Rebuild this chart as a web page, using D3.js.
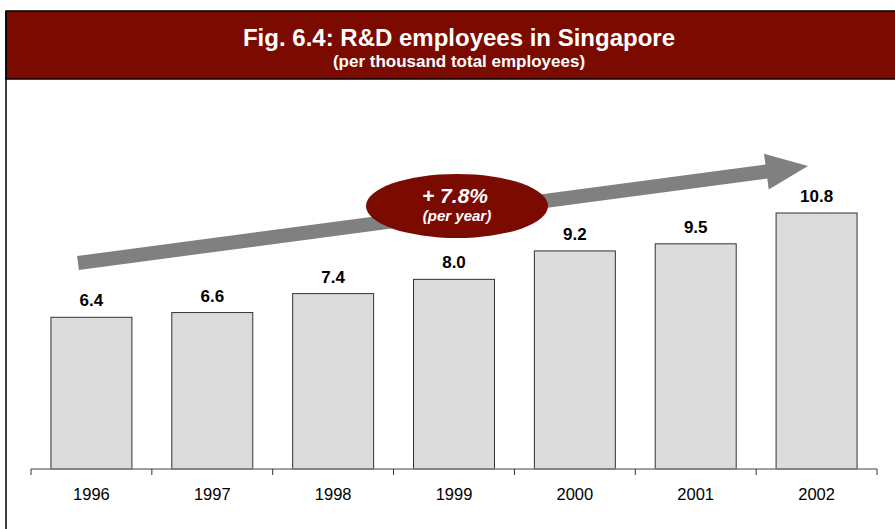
<!DOCTYPE html>
<html>
<head>
<meta charset="utf-8">
<script src="https://cdn.jsdelivr.net/npm/d3@7"></script>
<style>
  body { margin: 0; background: #fff; }
  svg { display: block; font-family: "Liberation Sans", Arial, sans-serif; }
</style>
</head>
<body>
<div id="chart"></div>
<script>
const years = ['1996', '1997', '1998', '1999', '2000', '2001', '2002'];
const values = [6.4, 6.6, 7.4, 8.0, 9.2, 9.5, 10.8];
const valueLabels = ['6.4', '6.6', '7.4', '8.0', '9.2', '9.5', '10.8'];
const title = 'Fig. 6.4: R&D employees in Singapore';
const subtitle = '(per thousand total employees)';
const growthText = '+ 7.8%';
const growthSub = '(per year)';

const W = 895, H = 529;
const red = '#7b0a00';

const svg = d3.select('#chart').append('svg')
  .attr('width', W)
  .attr('height', H);

// header band
svg.append('rect')
  .attr('x', 6).attr('y', 11)
  .attr('width', W).attr('height', 68)
  .attr('fill', red)
  .attr('stroke', '#000').attr('stroke-width', 1.5);
// left frame line
svg.append('line')
  .attr('x1', 6).attr('x2', 6)
  .attr('y1', 11).attr('y2', H)
  .attr('stroke', '#000').attr('stroke-width', 1.5);

svg.append('text')
  .attr('x', 459).attr('y', 46)
  .attr('text-anchor', 'middle')
  .attr('fill', '#fff')
  .attr('font-weight', 'bold')
  .attr('font-size', 24)
  .text(title);
svg.append('text')
  .attr('x', 459).attr('y', 67)
  .attr('text-anchor', 'middle')
  .attr('fill', '#fff')
  .attr('font-weight', 'bold')
  .attr('font-size', 17)
  .text(subtitle);

// scales
let x = d3.scaleBand()
  .domain(years)
  .range([31, 877])
  .paddingInner(0.33)
  .paddingOuter(0.165);
let y = d3.scaleLinear()
  .domain([0, 10.8])
  .range([469, 213]);

// bars
svg.append('g')
  .selectAll('rect')
  .data(values)
  .enter()
  .append('rect')
    .attr('x', (d, i) => x(years[i]))
    .attr('y', d => y(d))
    .attr('width', x.bandwidth())
    .attr('height', d => y(0) - y(d))
    .attr('fill', '#dcdcdc')
    .attr('stroke', '#333')
    .attr('stroke-width', 1);

// value labels
svg.append('g')
  .selectAll('text')
  .data(values)
  .enter()
  .append('text')
    .attr('x', (d, i) => x(years[i]) + x.bandwidth() / 2)
    .attr('y', d => y(d) - 11)
    .attr('text-anchor', 'middle')
    .attr('font-weight', 'bold')
    .attr('font-size', 17)
    .attr('fill', '#000')
    .text((d, i) => valueLabels[i]);

// x axis: ticks between categories
const axis = svg.append('g');
axis.append('line')
  .attr('x1', x.range()[0]).attr('x2', x.range()[1])
  .attr('y1', y(0)).attr('y2', y(0))
  .attr('stroke', '#808080').attr('stroke-width', 1.5);
const bounds = years.map(c => x(c) - x.step() * x.paddingInner() / 2)
  .map((v, i) => i === 0 ? x.range()[0] : v)
  .concat([x.range()[1]]);
axis.selectAll('line.tick')
  .data(bounds)
  .enter()
  .append('line')
    .attr('class', 'tick')
    .attr('x1', d => d).attr('x2', d => d)
    .attr('y1', y(0)).attr('y2', y(0) + 6)
    .attr('stroke', '#333').attr('stroke-width', 1);
axis.selectAll('text')
  .data(years)
  .enter()
  .append('text')
    .attr('x', d => x(d) + x.bandwidth() / 2)
    .attr('y', y(0) + 31)
    .attr('text-anchor', 'middle')
    .attr('font-size', 16.5)
    .attr('fill', '#000')
    .text(d => d);

// growth arrow (annotation)
const ax0 = 78, ay0 = 263, ax1 = 808, ay1 = 166;
const ang = Math.atan2(ay1 - ay0, ax1 - ax0);
const len = Math.hypot(ax1 - ax0, ay1 - ay0);
const shaft = 7, headW = 18, headL = 42;
svg.append('path')
  .attr('transform', `translate(${ax0},${ay0}) rotate(${ang * 180 / Math.PI})`)
  .attr('d', `M0,${-shaft} L${len - headL},${-shaft} L${len - headL},${-headW} L${len},0 L${len - headL},${headW} L${len - headL},${shaft} L0,${shaft} Z`)
  .attr('fill', '#808080');

svg.append('ellipse')
  .attr('cx', 457).attr('cy', 206)
  .attr('rx', 91).attr('ry', 32)
  .attr('fill', red);
svg.append('text')
  .attr('x', 455).attr('y', 203)
  .attr('text-anchor', 'middle')
  .attr('fill', '#fff')
  .attr('font-weight', 'bold')
  .attr('font-style', 'italic')
  .attr('font-size', 21)
  .text(growthText);
svg.append('text')
  .attr('x', 457).attr('y', 221)
  .attr('text-anchor', 'middle')
  .attr('fill', '#fff')
  .attr('font-weight', 'bold')
  .attr('font-style', 'italic')
  .attr('font-size', 15)
  .text(growthSub);
</script>
</body>
</html>
